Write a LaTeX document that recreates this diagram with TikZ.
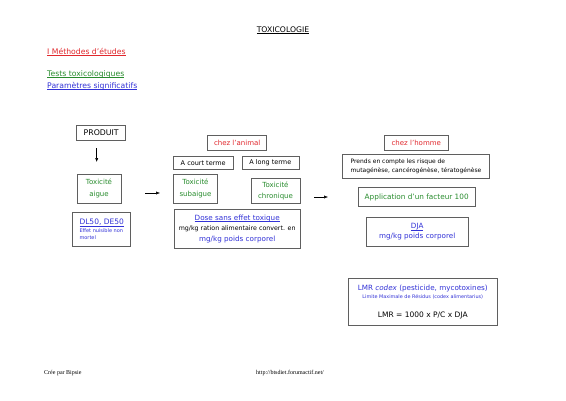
\documentclass[tikz,border=0pt]{standalone}
\usepackage{fontspec}
\setmainfont{DejaVu Sans}
\newfontfamily\footfont{Liberation Serif}
\usetikzlibrary{arrows.meta}
\definecolor{tred}{RGB}{225,40,45}
\definecolor{tgreen}{RGB}{40,140,45}
\definecolor{tblue}{RGB}{50,50,215}
\definecolor{tframe}{RGB}{95,95,95}
\newsavebox{\ulbox}
\newcommand{\ul}[1]{\sbox{\ulbox}{#1}\rlap{\rule[-1.3pt]{\wd\ulbox}{0.45pt}}\usebox{\ulbox}}
\begin{document}
\begin{tikzpicture}[x=1pt,y=-1pt,
  boxn/.style={draw=tframe,line width=0.6pt,inner sep=0pt,align=center,minimum width=#1},
  txt/.style={inner sep=0pt,anchor=west},
  arr/.style={-{Latex[length=4pt,width=3.2pt]},line width=0.5pt},
  mainf/.style={font=\fontsize{7}{11}\selectfont},
  headf/.style={font=\fontsize{7.7}{11}\selectfont},
  smallf/.style={font=\fontsize{6.5}{8}\selectfont}]
\useasboundingbox (0,0) rectangle (566,400);
\fill[white] (0,0) rectangle (566,400);

% titles
\node[inner sep=0pt,headf] (title) at (283,30) {\ul{TOXICOLOGIE}};
\node[txt,headf,text=tred] (meth) at (47,52) {\ul{I Méthodes d'études}};
\node[txt,headf,text=tgreen] (tests) at (47,74) {\ul{Tests toxicologiques}};
\node[txt,headf,text=tblue] (param) at (47,86) {\ul{Paramètres significatifs}};

% left column
\node[boxn=49pt,minimum height=14.6pt,font=\fontsize{7.8}{9}\selectfont] (produit) at (101.2,133) {PRODUIT};
\node[boxn=44pt,minimum height=29pt,font=\fontsize{7}{12}\selectfont,text=tgreen] (aigue) at (99,188.5) {Toxicité\\aigue};
\node[boxn=58pt,minimum height=34pt,align=left,text=tblue,font=\fontsize{5}{7}\selectfont] (dl) at (101.7,229.7)
  {{\fontsize{7.5}{9}\selectfont\ul{DL50, DE50}}\\[1pt]Effet nuisible non\\mortel};

% middle column
\node[boxn=59pt,minimum height=14.5pt,mainf,text=tred] (animal) at (237.2,142.8) {chez l'animal};
\node[boxn=60pt,minimum height=13.3pt,smallf] (court) at (203.2,162.7) {A court terme};
\node[boxn=57pt,minimum height=13.3pt,smallf] (long) at (270.3,162.7) {A long terme};
\node[boxn=44pt,minimum height=29.3pt,font=\fontsize{7}{12}\selectfont,text=tgreen] (subaigue) at (195.5,188.7) {Toxicité\\subaigue};
\node[boxn=49pt,minimum height=25pt,font=\fontsize{7}{11}\selectfont,text=tgreen] (chronique) at (275.5,190.8) {Toxicité\\chronique};
\node[boxn=126pt,minimum height=39pt,font=\fontsize{6.3}{10.5}\selectfont] (dose) at (237.2,228.8)
  {{\fontsize{7.2}{9}\selectfont\color{tblue}\ul{Dose sans effet toxique}}\\
   mg/kg ration alimentaire convert. en\\
   {\fontsize{7.2}{9}\selectfont\color{tblue}mg/kg poids corporel}};

% right column
\node[boxn=64pt,minimum height=15pt,mainf,text=tred] (homme) at (416.3,142.5) {chez l'homme};
\node[boxn=146.6pt,minimum height=24pt,align=left,font=\fontsize{6}{9}\selectfont] (prends) at (416,166.3)
  {Prends en compte les risque de\\mutagénèse, cancérogénèse, tératogénèse};
\node[boxn=116.7pt,minimum height=19.4pt,font=\fontsize{7.3}{9}\selectfont,text=tgreen] (facteur) at (416.7,197) {Application d'un facteur 100};
\node[boxn=102.3pt,minimum height=29.4pt,font=\fontsize{7.2}{10}\selectfont,text=tblue] (dja) at (417.2,232)
  {\ul{DJA}\\mg/kg poids corporel};
\node[boxn=149pt,minimum height=46.7pt,font=\fontsize{4.9}{8}\selectfont] (lmr) at (422.8,301.7)
  {{\fontsize{7.2}{9}\selectfont\color{tblue}LMR \textit{codex} (pesticide, mycotoxines)}\\
   {\color{tblue}Limite Maximale de Résidus (codex alimentarius)}\\[11pt]
   {\fontsize{7.5}{9}\selectfont LMR = 1000 x P/C x DJA}};

% arrows
\coordinate (a1s) at (96.7,148);
\coordinate (a1e) at (96.7,162);
\draw[arr] (a1s) -- (a1e);
\coordinate (a2s) at (145,193);
\coordinate (a2e) at (160,193);
\draw[arr] (a2s) -- (a2e);
\coordinate (a3s) at (314,197);
\coordinate (a3e) at (328,197);
\draw[arr] (a3s) -- (a3e);

% footer
\node[txt,font=\footfont\fontsize{6}{7}\selectfont] (cree) at (44,373) {Crée par Bipsie};
\node[txt,font=\footfont\fontsize{6}{7}\selectfont] (url) at (256,373) {http://btsdiet.forumactif.net/};
\end{tikzpicture}
\end{document}
